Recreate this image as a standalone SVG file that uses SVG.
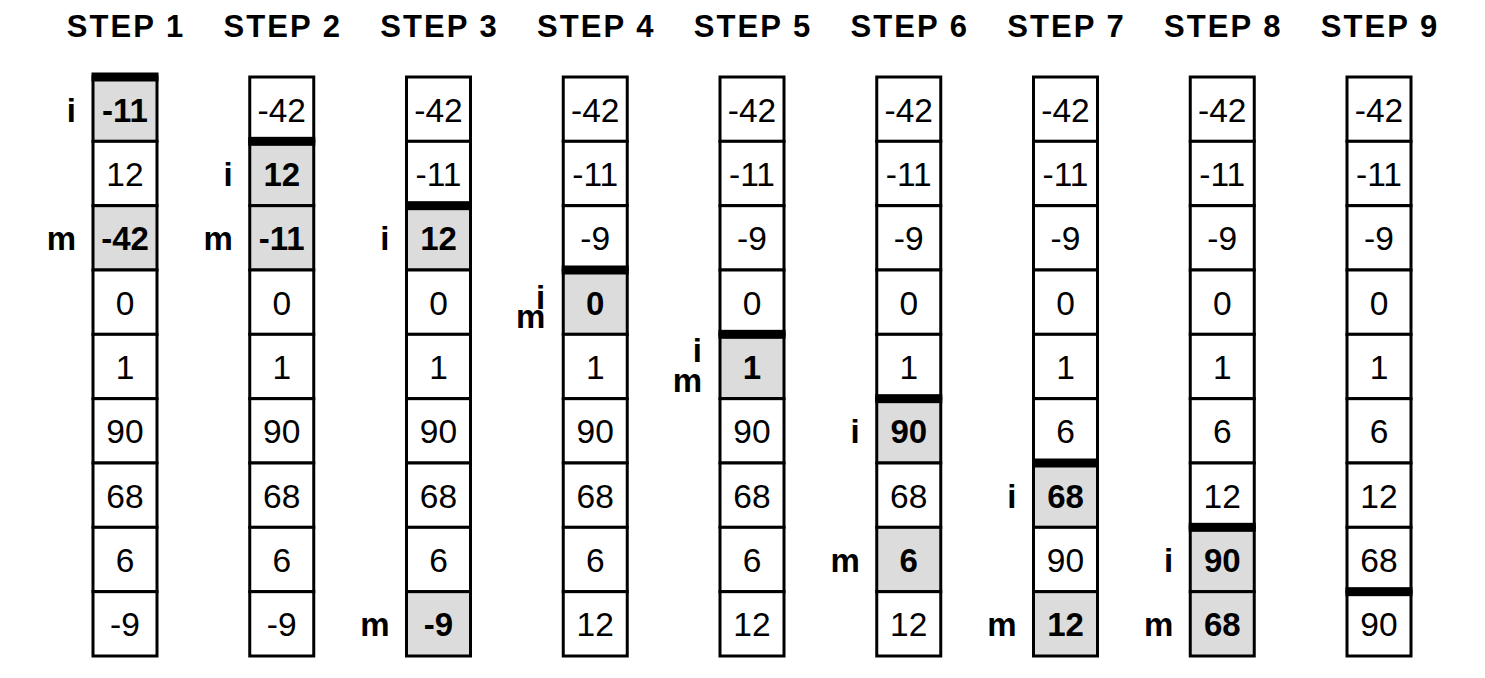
<svg xmlns="http://www.w3.org/2000/svg" width="1485" height="678" viewBox="0 0 1485 678">
<style>
.c{fill:#ffffff;stroke:#000;stroke-width:3}
.s{fill:#dcdcdc;stroke:#000;stroke-width:3}
.bar{fill:#000}
text{font-family:"Liberation Sans",Arial,sans-serif;fill:#000}
.n{font-size:33.5px;text-anchor:middle}
.b{font-size:33px;text-anchor:middle;font-weight:bold}
.l{font-size:33px;text-anchor:end;font-weight:bold}
.t{font-size:31px;text-anchor:middle;font-weight:bold;letter-spacing:2px}
</style>
<rect width="1485" height="678" fill="#ffffff"/>
<g id="step1">
<text class="t" x="126" y="37">STEP 1</text>
<rect class="s" x="93" y="77" width="64" height="64.33"/>
<rect class="c" x="93" y="141.33" width="64" height="64.33"/>
<rect class="s" x="93" y="205.67" width="64" height="64.33"/>
<rect class="c" x="93" y="270" width="64" height="64.33"/>
<rect class="c" x="93" y="334.33" width="64" height="64.33"/>
<rect class="c" x="93" y="398.67" width="64" height="64.33"/>
<rect class="c" x="93" y="463" width="64" height="64.33"/>
<rect class="c" x="93" y="527.33" width="64" height="64.33"/>
<rect class="c" x="93" y="591.67" width="64" height="64.33"/>
<rect class="bar" x="91.5" y="72.5" width="67" height="9"/>
<text class="b" x="125" y="121.5">-11</text>
<text class="n" x="125" y="185.83">12</text>
<text class="b" x="125" y="250.17">-42</text>
<text class="n" x="125" y="314.5">0</text>
<text class="n" x="125" y="378.83">1</text>
<text class="n" x="125" y="443.17">90</text>
<text class="n" x="125" y="507.5">68</text>
<text class="n" x="125" y="571.83">6</text>
<text class="n" x="125" y="636.17">-9</text>
<text class="l" x="76" y="121.5">i</text>
<text class="l" x="76" y="250.17">m</text>
</g>
<g id="step2">
<text class="t" x="282.75" y="37">STEP 2</text>
<rect class="c" x="249.75" y="77" width="64" height="64.33"/>
<rect class="s" x="249.75" y="141.33" width="64" height="64.33"/>
<rect class="s" x="249.75" y="205.67" width="64" height="64.33"/>
<rect class="c" x="249.75" y="270" width="64" height="64.33"/>
<rect class="c" x="249.75" y="334.33" width="64" height="64.33"/>
<rect class="c" x="249.75" y="398.67" width="64" height="64.33"/>
<rect class="c" x="249.75" y="463" width="64" height="64.33"/>
<rect class="c" x="249.75" y="527.33" width="64" height="64.33"/>
<rect class="c" x="249.75" y="591.67" width="64" height="64.33"/>
<rect class="bar" x="248.25" y="136.83" width="67" height="9"/>
<text class="n" x="281.75" y="121.5">-42</text>
<text class="b" x="281.75" y="185.83">12</text>
<text class="b" x="281.75" y="250.17">-11</text>
<text class="n" x="281.75" y="314.5">0</text>
<text class="n" x="281.75" y="378.83">1</text>
<text class="n" x="281.75" y="443.17">90</text>
<text class="n" x="281.75" y="507.5">68</text>
<text class="n" x="281.75" y="571.83">6</text>
<text class="n" x="281.75" y="636.17">-9</text>
<text class="l" x="232.75" y="185.83">i</text>
<text class="l" x="232.75" y="250.17">m</text>
</g>
<g id="step3">
<text class="t" x="439.5" y="37">STEP 3</text>
<rect class="c" x="406.5" y="77" width="64" height="64.33"/>
<rect class="c" x="406.5" y="141.33" width="64" height="64.33"/>
<rect class="s" x="406.5" y="205.67" width="64" height="64.33"/>
<rect class="c" x="406.5" y="270" width="64" height="64.33"/>
<rect class="c" x="406.5" y="334.33" width="64" height="64.33"/>
<rect class="c" x="406.5" y="398.67" width="64" height="64.33"/>
<rect class="c" x="406.5" y="463" width="64" height="64.33"/>
<rect class="c" x="406.5" y="527.33" width="64" height="64.33"/>
<rect class="s" x="406.5" y="591.67" width="64" height="64.33"/>
<rect class="bar" x="405" y="201.17" width="67" height="9"/>
<text class="n" x="438.5" y="121.5">-42</text>
<text class="n" x="438.5" y="185.83">-11</text>
<text class="b" x="438.5" y="250.17">12</text>
<text class="n" x="438.5" y="314.5">0</text>
<text class="n" x="438.5" y="378.83">1</text>
<text class="n" x="438.5" y="443.17">90</text>
<text class="n" x="438.5" y="507.5">68</text>
<text class="n" x="438.5" y="571.83">6</text>
<text class="b" x="438.5" y="636.17">-9</text>
<text class="l" x="389.5" y="250.17">i</text>
<text class="l" x="389.5" y="636.17">m</text>
</g>
<g id="step4">
<text class="t" x="596.25" y="37">STEP 4</text>
<rect class="c" x="563.25" y="77" width="64" height="64.33"/>
<rect class="c" x="563.25" y="141.33" width="64" height="64.33"/>
<rect class="c" x="563.25" y="205.67" width="64" height="64.33"/>
<rect class="s" x="563.25" y="270" width="64" height="64.33"/>
<rect class="c" x="563.25" y="334.33" width="64" height="64.33"/>
<rect class="c" x="563.25" y="398.67" width="64" height="64.33"/>
<rect class="c" x="563.25" y="463" width="64" height="64.33"/>
<rect class="c" x="563.25" y="527.33" width="64" height="64.33"/>
<rect class="c" x="563.25" y="591.67" width="64" height="64.33"/>
<rect class="bar" x="561.75" y="265.5" width="67" height="9"/>
<text class="n" x="595.25" y="121.5">-42</text>
<text class="n" x="595.25" y="185.83">-11</text>
<text class="n" x="595.25" y="250.17">-9</text>
<text class="b" x="595.25" y="314.5">0</text>
<text class="n" x="595.25" y="378.83">1</text>
<text class="n" x="595.25" y="443.17">90</text>
<text class="n" x="595.25" y="507.5">68</text>
<text class="n" x="595.25" y="571.83">6</text>
<text class="n" x="595.25" y="636.17">12</text>
<text class="l" x="545.25" y="309">i</text>
<text class="l" x="545.25" y="328">m</text>
</g>
<g id="step5">
<text class="t" x="753" y="37">STEP 5</text>
<rect class="c" x="720" y="77" width="64" height="64.33"/>
<rect class="c" x="720" y="141.33" width="64" height="64.33"/>
<rect class="c" x="720" y="205.67" width="64" height="64.33"/>
<rect class="c" x="720" y="270" width="64" height="64.33"/>
<rect class="s" x="720" y="334.33" width="64" height="64.33"/>
<rect class="c" x="720" y="398.67" width="64" height="64.33"/>
<rect class="c" x="720" y="463" width="64" height="64.33"/>
<rect class="c" x="720" y="527.33" width="64" height="64.33"/>
<rect class="c" x="720" y="591.67" width="64" height="64.33"/>
<rect class="bar" x="718.5" y="329.83" width="67" height="9"/>
<text class="n" x="752" y="121.5">-42</text>
<text class="n" x="752" y="185.83">-11</text>
<text class="n" x="752" y="250.17">-9</text>
<text class="n" x="752" y="314.5">0</text>
<text class="b" x="752" y="378.83">1</text>
<text class="n" x="752" y="443.17">90</text>
<text class="n" x="752" y="507.5">68</text>
<text class="n" x="752" y="571.83">6</text>
<text class="n" x="752" y="636.17">12</text>
<text class="l" x="702" y="362">i</text>
<text class="l" x="702" y="392">m</text>
</g>
<g id="step6">
<text class="t" x="909.75" y="37">STEP 6</text>
<rect class="c" x="876.75" y="77" width="64" height="64.33"/>
<rect class="c" x="876.75" y="141.33" width="64" height="64.33"/>
<rect class="c" x="876.75" y="205.67" width="64" height="64.33"/>
<rect class="c" x="876.75" y="270" width="64" height="64.33"/>
<rect class="c" x="876.75" y="334.33" width="64" height="64.33"/>
<rect class="s" x="876.75" y="398.67" width="64" height="64.33"/>
<rect class="c" x="876.75" y="463" width="64" height="64.33"/>
<rect class="s" x="876.75" y="527.33" width="64" height="64.33"/>
<rect class="c" x="876.75" y="591.67" width="64" height="64.33"/>
<rect class="bar" x="875.25" y="394.17" width="67" height="9"/>
<text class="n" x="908.75" y="121.5">-42</text>
<text class="n" x="908.75" y="185.83">-11</text>
<text class="n" x="908.75" y="250.17">-9</text>
<text class="n" x="908.75" y="314.5">0</text>
<text class="n" x="908.75" y="378.83">1</text>
<text class="b" x="908.75" y="443.17">90</text>
<text class="n" x="908.75" y="507.5">68</text>
<text class="b" x="908.75" y="571.83">6</text>
<text class="n" x="908.75" y="636.17">12</text>
<text class="l" x="859.75" y="443.17">i</text>
<text class="l" x="859.75" y="571.83">m</text>
</g>
<g id="step7">
<text class="t" x="1066.5" y="37">STEP 7</text>
<rect class="c" x="1033.5" y="77" width="64" height="64.33"/>
<rect class="c" x="1033.5" y="141.33" width="64" height="64.33"/>
<rect class="c" x="1033.5" y="205.67" width="64" height="64.33"/>
<rect class="c" x="1033.5" y="270" width="64" height="64.33"/>
<rect class="c" x="1033.5" y="334.33" width="64" height="64.33"/>
<rect class="c" x="1033.5" y="398.67" width="64" height="64.33"/>
<rect class="s" x="1033.5" y="463" width="64" height="64.33"/>
<rect class="c" x="1033.5" y="527.33" width="64" height="64.33"/>
<rect class="s" x="1033.5" y="591.67" width="64" height="64.33"/>
<rect class="bar" x="1032" y="458.5" width="67" height="9"/>
<text class="n" x="1065.5" y="121.5">-42</text>
<text class="n" x="1065.5" y="185.83">-11</text>
<text class="n" x="1065.5" y="250.17">-9</text>
<text class="n" x="1065.5" y="314.5">0</text>
<text class="n" x="1065.5" y="378.83">1</text>
<text class="n" x="1065.5" y="443.17">6</text>
<text class="b" x="1065.5" y="507.5">68</text>
<text class="n" x="1065.5" y="571.83">90</text>
<text class="b" x="1065.5" y="636.17">12</text>
<text class="l" x="1016.5" y="507.5">i</text>
<text class="l" x="1016.5" y="636.17">m</text>
</g>
<g id="step8">
<text class="t" x="1223.25" y="37">STEP 8</text>
<rect class="c" x="1190.25" y="77" width="64" height="64.33"/>
<rect class="c" x="1190.25" y="141.33" width="64" height="64.33"/>
<rect class="c" x="1190.25" y="205.67" width="64" height="64.33"/>
<rect class="c" x="1190.25" y="270" width="64" height="64.33"/>
<rect class="c" x="1190.25" y="334.33" width="64" height="64.33"/>
<rect class="c" x="1190.25" y="398.67" width="64" height="64.33"/>
<rect class="c" x="1190.25" y="463" width="64" height="64.33"/>
<rect class="s" x="1190.25" y="527.33" width="64" height="64.33"/>
<rect class="s" x="1190.25" y="591.67" width="64" height="64.33"/>
<rect class="bar" x="1188.75" y="522.83" width="67" height="9"/>
<text class="n" x="1222.25" y="121.5">-42</text>
<text class="n" x="1222.25" y="185.83">-11</text>
<text class="n" x="1222.25" y="250.17">-9</text>
<text class="n" x="1222.25" y="314.5">0</text>
<text class="n" x="1222.25" y="378.83">1</text>
<text class="n" x="1222.25" y="443.17">6</text>
<text class="n" x="1222.25" y="507.5">12</text>
<text class="b" x="1222.25" y="571.83">90</text>
<text class="b" x="1222.25" y="636.17">68</text>
<text class="l" x="1173.25" y="571.83">i</text>
<text class="l" x="1173.25" y="636.17">m</text>
</g>
<g id="step9">
<text class="t" x="1380" y="37">STEP 9</text>
<rect class="c" x="1347" y="77" width="64" height="64.33"/>
<rect class="c" x="1347" y="141.33" width="64" height="64.33"/>
<rect class="c" x="1347" y="205.67" width="64" height="64.33"/>
<rect class="c" x="1347" y="270" width="64" height="64.33"/>
<rect class="c" x="1347" y="334.33" width="64" height="64.33"/>
<rect class="c" x="1347" y="398.67" width="64" height="64.33"/>
<rect class="c" x="1347" y="463" width="64" height="64.33"/>
<rect class="c" x="1347" y="527.33" width="64" height="64.33"/>
<rect class="c" x="1347" y="591.67" width="64" height="64.33"/>
<rect class="bar" x="1345.5" y="587.17" width="67" height="9"/>
<text class="n" x="1379" y="121.5">-42</text>
<text class="n" x="1379" y="185.83">-11</text>
<text class="n" x="1379" y="250.17">-9</text>
<text class="n" x="1379" y="314.5">0</text>
<text class="n" x="1379" y="378.83">1</text>
<text class="n" x="1379" y="443.17">6</text>
<text class="n" x="1379" y="507.5">12</text>
<text class="n" x="1379" y="571.83">68</text>
<text class="n" x="1379" y="636.17">90</text>
</g>
<g id="connectors"></g>
</svg>
